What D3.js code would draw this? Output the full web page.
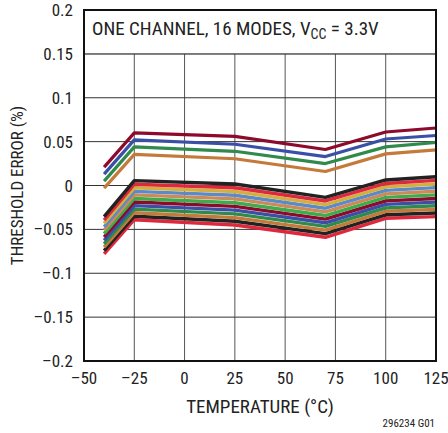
<!DOCTYPE html>
<html>
<head>
<meta charset="utf-8">
<script src="https://cdn.jsdelivr.net/npm/d3@7"></script>
<style>
  body { margin: 0; background: #fff; }
  text { font-family: "Liberation Sans Narrow", "Roboto Condensed", "Liberation Sans", sans-serif; fill: #222; }
</style>
</head>
<body>
<div id="chart"></div>
<script>
// temperatures where each curve was measured
let temps = [-40, -25, 25, 70, 100, 125];

// upper group of 4 curves
let upperColors = ['#8e0a2c', '#3a50a6', '#2f8a4c', '#c47a3a'];
let upperValues = [
    [0.021, 0.060, 0.056, 0.041, 0.061, 0.0655],
    [0.013, 0.052, 0.047, 0.033, 0.053, 0.057],
    [0.005, 0.044, 0.039, 0.025, 0.044, 0.049],
    [-0.003, 0.0355, 0.0305, 0.016, 0.036, 0.0405]
];

// lower band of curves, top to bottom
let lowerColors = ['#222222', '#e0283c', '#d2b040', '#5c8ac8', '#cc8a58', '#3cac4c',
    '#8e0a2c', '#3a50a6', '#2f8a4c', '#c47a3a', '#222222', '#e0283c'];
let lowerValues = [
    [-0.0355, 0.0055, 0.0017, -0.0135, 0.0063, 0.0100],
    [-0.0394, 0.0015, -0.0026, -0.0176, 0.0023, 0.0059],
    [-0.0432, -0.0026, -0.0068, -0.0218, -0.0016, 0.0017],
    [-0.0471, -0.0067, -0.0111, -0.0259, -0.0056, -0.0024],
    [-0.0509, -0.0107, -0.0153, -0.0301, -0.0096, -0.0066],
    [-0.0548, -0.0148, -0.0196, -0.0342, -0.0135, -0.0107],
    [-0.0587, -0.0188, -0.0238, -0.0383, -0.0175, -0.0148],
    [-0.0625, -0.0229, -0.0281, -0.0425, -0.0215, -0.0190],
    [-0.0664, -0.0269, -0.0323, -0.0466, -0.0255, -0.0231],
    [-0.0703, -0.0310, -0.0366, -0.0508, -0.0294, -0.0272],
    [-0.0741, -0.0350, -0.0408, -0.0549, -0.0334, -0.0314],
    [-0.0780, -0.0390, -0.0450, -0.0590, -0.0374, -0.0355]
];

let xTicks = [-50, -25, 0, 25, 50, 75, 100, 125];
let yTicks = [-0.2, -0.15, -0.1, -0.05, 0, 0.05, 0.1, 0.15, 0.2];
let yTickLabels = ['\u20130.2', '\u20130.15', '\u20130.1', '\u20130.05', '0', '0.05', '0.1', '0.15', '0.2'];
let xTickLabels = ['\u201350', '\u201325', '0', '25', '50', '75', '100', '125'];

let margin = { top: 10, right: 12, bottom: 72, left: 84 };
let fullW = 448, fullH = 433;
let width = fullW - margin.left - margin.right;
let height = fullH - margin.top - margin.bottom;

let svg = d3.select('#chart')
    .append('svg')
    .attr('width', fullW)
    .attr('height', fullH);

let g = svg.append('g')
    .attr('transform', 'translate(' + margin.left + ',' + margin.top + ')');

let x = d3.scaleLinear().domain([-50, 125]).range([0, width]);
let y = d3.scaleLinear().domain([-0.2, 0.2]).range([height, 0]);

// grid
g.selectAll('.vgrid')
    .data(xTicks.slice(1, -1))
    .enter().append('line')
    .attr('x1', d => x(d)).attr('x2', d => x(d))
    .attr('y1', 0).attr('y2', height)
    .attr('stroke', '#555').attr('stroke-width', 1);

g.selectAll('.hgrid')
    .data(yTicks.slice(1, -1))
    .enter().append('line')
    .attr('x1', 0).attr('x2', width)
    .attr('y1', d => y(d)).attr('y2', d => y(d))
    .attr('stroke', '#333').attr('stroke-width', 1);

// white box behind the title
g.append('rect')
    .attr('x', 0).attr('y', 0)
    .attr('width', width).attr('height', y(0.15))
    .attr('fill', '#fff');
g.append('line')
    .attr('x1', 0).attr('x2', width)
    .attr('y1', y(0.15)).attr('y2', y(0.15))
    .attr('stroke', '#333').attr('stroke-width', 1);

let line = d3.line()
    .x((d, i) => x(temps[i]))
    .y(d => y(d));

// lower band drawn bottom-up so top curve sits on top
for (let i = lowerValues.length - 1; i >= 0; i--) {
    g.append('path')
        .attr('d', line(lowerValues[i]))
        .attr('fill', 'none')
        .attr('stroke', lowerColors[i])
        .attr('stroke-width', 3.4)
        .attr('stroke-linejoin', 'round');
}
for (let i = upperValues.length - 1; i >= 0; i--) {
    g.append('path')
        .attr('d', line(upperValues[i]))
        .attr('fill', 'none')
        .attr('stroke', upperColors[i])
        .attr('stroke-width', 3.2)
        .attr('stroke-linejoin', 'round');
}

// frame
g.append('rect')
    .attr('x', 0).attr('y', 0)
    .attr('width', width).attr('height', height)
    .attr('fill', 'none')
    .attr('stroke', '#111').attr('stroke-width', 2);

// tick labels
g.selectAll('.ylab')
    .data(yTicks)
    .enter().append('text')
    .attr('x', -11)
    .attr('y', d => y(d))
    .attr('dy', '0.36em')
    .attr('text-anchor', 'end')
    .style('font-size', '17px')
    .text((d, i) => yTickLabels[i]);

g.selectAll('.xlab')
    .data(xTicks)
    .enter().append('text')
    .attr('x', d => x(d))
    .attr('y', height + 23)
    .attr('text-anchor', 'middle')
    .style('font-size', '17px')
    .text((d, i) => xTickLabels[i]);

// axis titles
g.append('text')
    .attr('x', x(37.5))
    .attr('y', height + 52)
    .attr('text-anchor', 'middle')
    .style('font-size', '19px')
    .text('TEMPERATURE (\u00B0C)');

svg.append('text')
    .attr('transform', 'translate(23,' + (margin.top + y(0)) + ') rotate(-90)')
    .attr('text-anchor', 'middle')
    .style('font-size', '17px')
    .text('THRESHOLD ERROR (%)');

// title
let title = g.append('text')
    .attr('x', 8)
    .attr('y', 25)
    .style('font-size', '19px');
title.append('tspan').text('ONE CHANNEL, 16 MODES, V');
title.append('tspan').attr('dy', 4).style('font-size', '14px').text('CC');
title.append('tspan').attr('dy', -4).text(' = 3.3V');

svg.append('text')
    .attr('x', fullW - 13)
    .attr('y', fullH - 6)
    .attr('text-anchor', 'end')
    .style('font-size', '11px')
    .text('296234 G01');
</script>
</body>
</html>
